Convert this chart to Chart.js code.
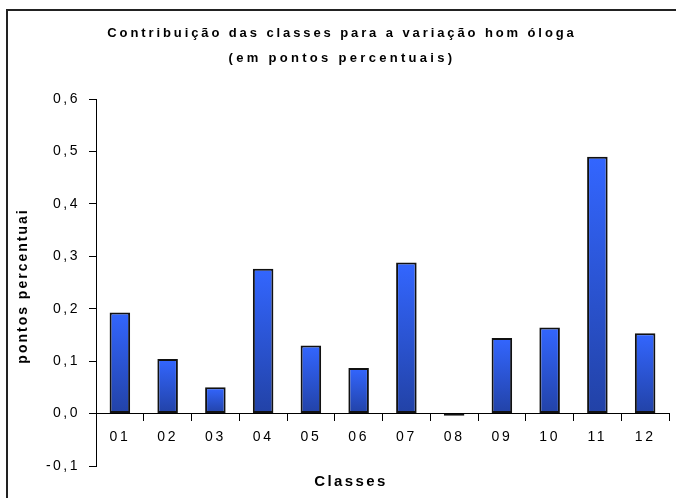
<!DOCTYPE html>
<html>
<head>
<meta charset="utf-8">
<script src="https://cdn.jsdelivr.net/npm/chart.js@4"></script>
<style>
  html, body { margin: 0; padding: 0; background: #fff; }
  canvas { display: block; }
</style>
</head>
<body>
<canvas id="chart" width="676" height="498"></canvas>
<script>
// chart data
const classes = ['01', '02', '03', '04', '05', '06', '07', '08', '09', '10', '11', '12'];
const contributions = [0.193, 0.104, 0.050, 0.276, 0.130, 0.087, 0.288, -0.004, 0.144, 0.164, 0.490, 0.153];
const yTicks = [-0.1, 0.0, 0.1, 0.2, 0.3, 0.4, 0.5, 0.6];

const titleLines = ['Contribuição das classes para a variação hom óloga', '(em pontos percentuais)'];
const yTitle = 'pontos percentuai';
const xTitle = 'Classes';

const FONT = '"Liberation Sans", Arial, sans-serif';

// letter spacing for all text drawn on the canvas
const spacing = {
  id: 'spacing',
  beforeLayout(chart) { chart.ctx.letterSpacing = '2.5px'; },
  beforeDraw(chart) { chart.ctx.letterSpacing = '2.5px'; }
};

// frame, titles
const decor = {
  id: 'decor',
  afterDraw(chart) {
    const ctx = chart.ctx;
    ctx.save();
    ctx.strokeStyle = '#222';
    ctx.lineWidth = 2;
    ctx.strokeRect(7, 10, 720, 600);

    ctx.fillStyle = '#000';
    ctx.textAlign = 'center';
    ctx.textBaseline = 'alphabetic';
    ctx.font = 'bold 13px ' + FONT;
    ctx.letterSpacing = '2.9px';
    ctx.fillText(titleLines[0], 342, 37);
    ctx.letterSpacing = '3.3px';
    ctx.fillText(titleLines[1], 342, 62);

    ctx.textBaseline = 'middle';
    ctx.letterSpacing = '2.4px';
    ctx.font = 'bold 15px ' + FONT;
    ctx.fillText(xTitle, 351, 482);

    ctx.font = 'bold 14px ' + FONT;
    ctx.letterSpacing = '2px';
    ctx.translate(23, 286);
    ctx.rotate(-Math.PI / 2);
    ctx.fillText(yTitle, 0, 0);
    ctx.restore();
  }
};

function barFill(c) {
  const ch = c.chart;
  if (c.type !== 'data' || !ch.chartArea || !ch.scales.y) return '#2d58e0';
  const y = ch.scales.y;
  const top = y.getPixelForValue(c.parsed.y);
  const base = y.getPixelForValue(0);
  if (Math.abs(base - top) < 2) return '#2244aa';
  const g = ch.ctx.createLinearGradient(0, top, 0, base);
  g.addColorStop(0, '#3366ff');
  g.addColorStop(1, '#2242a6');
  return g;
}

new Chart(document.getElementById('chart'), {
  type: 'bar',
  data: {
    labels: classes,
    datasets: [{
      data: contributions,
      backgroundColor: barFill,
      borderColor: '#111',
      borderWidth: 2,
      borderSkipped: false,
      categoryPercentage: 1,
      barPercentage: 0.43
    }]
  },
  options: {
    responsive: false,
    animation: false,
    events: [],
    layout: { padding: { left: 0, top: 99, right: 7, bottom: 32 } },
    plugins: { legend: { display: false }, title: { display: false }, tooltip: { enabled: false } },
    scales: {
      x: {
        position: { y: 0 },
        offset: true,
        grid: { offset: true, drawOnChartArea: false, drawTicks: true, tickLength: 7, color: '#000' },
        border: { display: true, color: '#000', width: 1 },
        ticks: { color: '#000', font: { family: FONT, size: 14 }, padding: 8, maxRotation: 0 }
      },
      y: {
        min: yTicks[0],
        max: yTicks[yTicks.length - 1],
        afterFit(scale) { scale.width = 96; },
        afterBuildTicks(scale) { scale.ticks = yTicks.map(v => ({ value: v })); },
        grid: { drawOnChartArea: false, drawTicks: true, tickLength: 7, color: '#000' },
        border: { display: true, color: '#000', width: 1 },
        ticks: {
          color: '#000',
          font: { family: FONT, size: 14 },
          padding: 9,
          callback: v => v.toFixed(1).replace('.', ',')
        }
      }
    }
  },
  plugins: [spacing, decor]
});
</script>
</body>
</html>
